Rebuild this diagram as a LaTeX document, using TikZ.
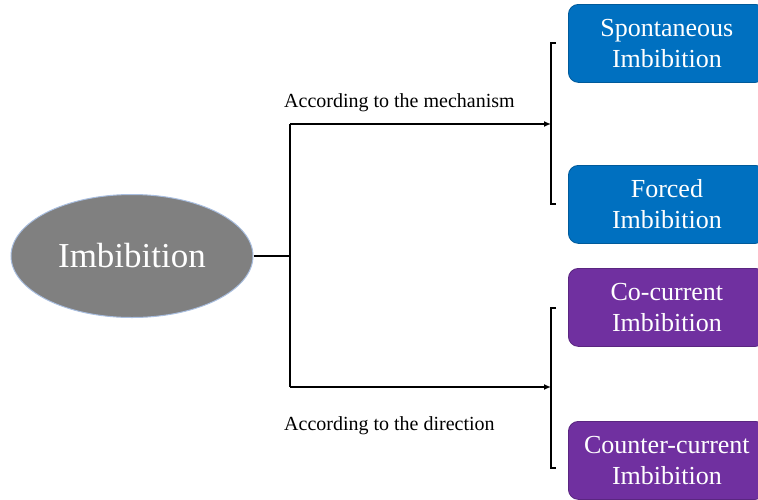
\documentclass[tikz,border=0pt]{standalone}
\usepackage{fontspec}
\setmainfont{Liberation Serif}
\usetikzlibrary{shapes.geometric,arrows.meta}
\definecolor{boxblue}{HTML}{0070C0}
\definecolor{boxpurple}{HTML}{7030A0}
\definecolor{ellgray}{HTML}{808080}
\definecolor{ellborder}{HTML}{A9BEDF}
\tikzset{
  catbox/.style={rounded corners=10pt, minimum width=197pt, minimum height=78pt, text width=190pt, align=center, font=\fontsize{26}{31}\selectfont, text=white, anchor=north west, inner sep=0pt},
  bluebox/.style={catbox, fill=boxblue, draw=boxblue!80!black, line width=0.8pt},
  purplebox/.style={catbox, fill=boxpurple, draw=boxpurple!80!black, line width=0.8pt},
  conn/.style={line width=1.6pt, black},
  arr/.style={conn, -{Latex[length=7pt,width=6pt]}},
  lbl/.style={font=\fontsize{20}{24}\selectfont, anchor=base west, inner sep=0pt},
}
\begin{document}
\begin{tikzpicture}[x=1pt,y=-1pt]
\useasboundingbox (0,0) rectangle (758,499);
\node[ellipse, fill=ellgray, draw=ellborder, line width=1pt, minimum width=242pt, minimum height=123pt, inner sep=0pt, text=white, font=\fontsize{35}{40}\selectfont] (root) at (132,256) {Imbibition};
\coordinate (j) at (290,256);
\coordinate (jt) at (290,124);
\coordinate (jb) at (290,387);
\coordinate (bt) at (551,124);
\coordinate (bb) at (551,387);
\draw[conn] (root.east) -- (j);
\draw[conn] (jt) -- (jb);
\draw[arr] (jt) -- (bt);
\draw[arr] (jb) -- (bb);
% brackets
\coordinate (b1a) at (556,43);
\coordinate (b1b) at (556,204);
\coordinate (b2a) at (556,308);
\coordinate (b2b) at (556,468);
\draw[conn] (b1a) -- (551,43) -- (551,204) -- (b1b);
\draw[conn] (b2a) -- (551,308) -- (551,468) -- (b2b);
\node[lbl] (l1) at (284,107) {According to the mechanism};
\node[lbl] (l2) at (284,430) {According to the direction};
\node[bluebox] (s) at (568,4) {Spontaneous\\Imbibition};
\node[bluebox] (f) at (568,165) {Forced\\Imbibition};
\node[purplebox] (c) at (568,268) {Co-current\\Imbibition};
\node[purplebox] (cc) at (568,421) {Counter-current\\Imbibition};
\end{tikzpicture}
\end{document}
